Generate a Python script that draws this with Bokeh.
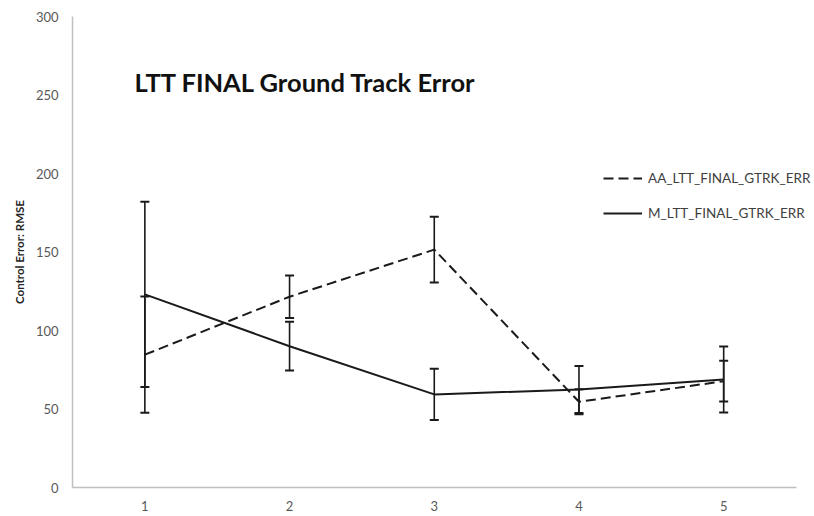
from bokeh.plotting import figure
from bokeh.models import ColumnDataSource, Whisker, Legend, LegendItem, Label, FixedTicker, Range1d, TeeHead
from bokeh.embed import file_html
from bokeh.resources import INLINE

title_text = "LTT FINAL Ground Track Error"
y_label = "Control Error: RMSE"
x_vals = [1, 2, 3, 4, 5]
aa_name = "AA_LTT_FINAL_GTRK_ERR"
aa_vals = [84.6, 121.5, 151.5, 54.6, 67.7]
aa_err = [37.0, 13.5, 21.0, 8.0, 13.0]
m_name = "M_LTT_FINAL_GTRK_ERR"
m_vals = [123.0, 90.0, 59.3, 62.4, 68.8]
m_err = [59.0, 15.5, 16.3, 15.0, 21.0]
y_ticks = [0, 50, 100, 150, 200, 250, 300]

FONT = "Lato"

p = figure(width=814, height=516, output_backend="svg", toolbar_location=None,
           x_range=Range1d(0.5, 5.6276), y_range=Range1d(0, 300),
           min_border_left=72, min_border_right=0, min_border_top=16, min_border_bottom=29)
p.outline_line_color = None
p.xgrid.grid_line_color = None
p.ygrid.grid_line_color = None

aa_src = ColumnDataSource(dict(x=x_vals, y=aa_vals,
                               lo=[v - e for v, e in zip(aa_vals, aa_err)],
                               hi=[v + e for v, e in zip(aa_vals, aa_err)]))
m_src = ColumnDataSource(dict(x=x_vals, y=m_vals,
                              lo=[v - e for v, e in zip(m_vals, m_err)],
                              hi=[v + e for v, e in zip(m_vals, m_err)]))

r_aa = p.line("x", "y", source=aa_src, line_color="#1a1a1a", line_width=2, line_dash="10 5")
r_m = p.line("x", "y", source=m_src, line_color="#1a1a1a", line_width=2)

for src in (aa_src, m_src):
    w = Whisker(source=src, base="x", upper="hi", lower="lo",
                line_color="#1a1a1a", line_width=1.6,
                upper_head=TeeHead(size=9, line_color="#1a1a1a", line_width=2),
                lower_head=TeeHead(size=9, line_color="#1a1a1a", line_width=2))
    p.add_layout(w)

legend = Legend(items=[LegendItem(label=aa_name, renderers=[r_aa]),
                       LegendItem(label=m_name, renderers=[r_m])],
                location=(531, 264), orientation="vertical",
                padding=0, margin=0, spacing=15,
                glyph_width=39, glyph_height=20, label_height=20, label_standoff=6,
                border_line_color=None, background_fill_alpha=0,
                label_text_font=FONT, label_text_font_size="13.5px", label_text_color="#404040")
p.add_layout(legend, "center")

p.xaxis.ticker = FixedTicker(ticks=x_vals)
p.yaxis.ticker = FixedTicker(ticks=y_ticks)
p.xaxis.bounds = (0.5, 5.5)
for ax in (p.xaxis, p.yaxis):
    ax.axis_line_color = "#BFBFBF"
    ax.axis_line_width = 1.5
    ax.major_tick_line_color = None
    ax.minor_tick_line_color = None
    ax.major_tick_out = 0
    ax.major_tick_in = 0
    ax.major_label_text_font = FONT
    ax.major_label_text_font_size = "13px"
    ax.major_label_text_color = "#595959"
p.yaxis.major_label_standoff = 14
p.xaxis.major_label_standoff = 13
p.yaxis.axis_label = y_label
p.yaxis.axis_label_text_font = FONT
p.yaxis.axis_label_text_font_size = "11.5px"
p.yaxis.axis_label_text_font_style = "bold"
p.yaxis.axis_label_text_color = "#262626"
p.yaxis.axis_label_standoff = 7

title = Label(x=62, y=406, x_units="screen", y_units="screen", text=title_text,
              text_font=FONT, text_font_size="25.5px", text_font_style="bold",
              text_color="#111111", text_baseline="alphabetic")
p.add_layout(title)

open("out.html", "w").write(file_html(p, INLINE))
